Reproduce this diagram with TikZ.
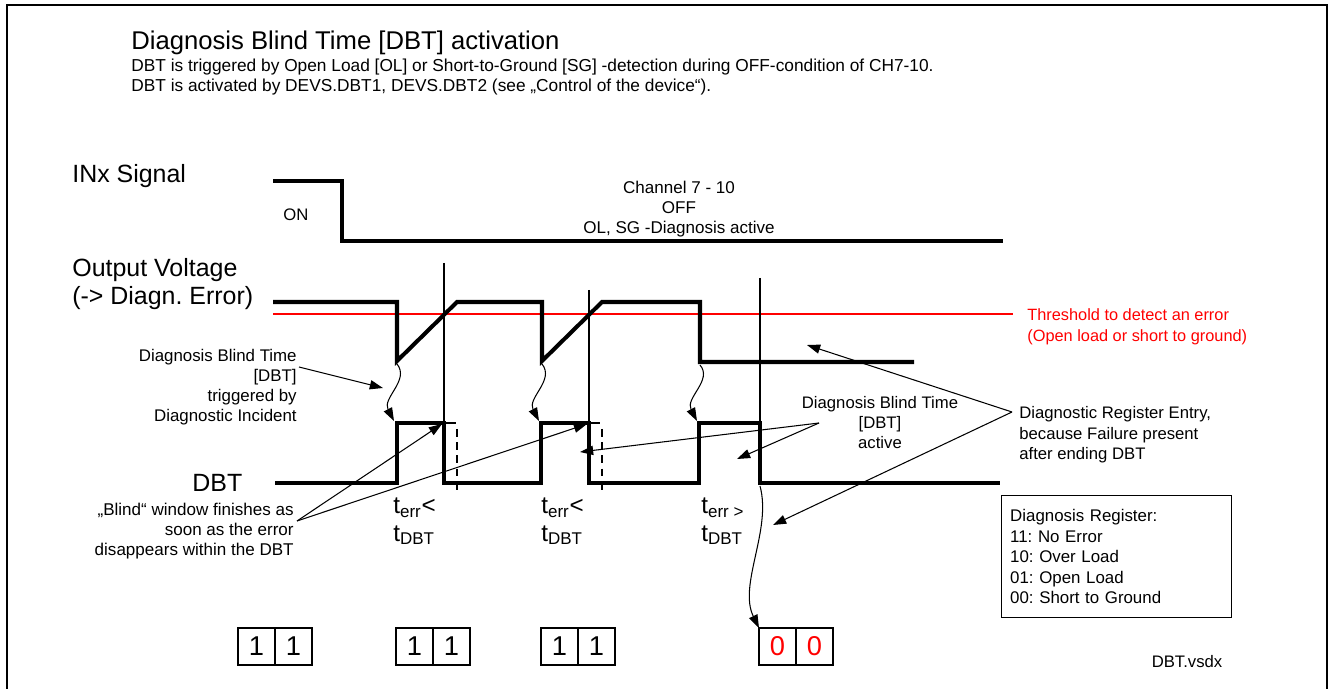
\documentclass[tikz,border=0pt]{standalone}
\usepackage{fontspec}
\setmainfont{Liberation Sans}
\usetikzlibrary{arrows.meta, positioning}

\begin{document}
\frenchspacing
\begin{tikzpicture}[x=0.02cm, y=-0.02cm, inner sep=0pt,
    wave/.style={line width=2.3pt},
    mark line/.style={line width=0.6pt},
    arr/.style={-{Triangle[length=7.5pt, width=5.2pt]}, line width=0.6pt},
    siglabel/.style={font=\fontsize{14.2}{16.4}\selectfont, align=left},
    note/.style={font=\fontsize{9.5}{11.5}\selectfont},
    tlabel/.style={font=\fontsize{13.8}{15}\selectfont, anchor=base west},
    regcell/.style={draw, line width=0.8pt, minimum size=0.74cm, outer sep=0pt,
      font=\fontsize{15.5}{17}\selectfont}]
   \useasboundingbox (0,0) rectangle (1330,689);
   % frame
   \draw[line width=1.2pt] (7,700) -- (7,5) -- (1327,5) -- (1327,700);

   % Heading
   \node[anchor=base west, font=\fontsize{14.6}{16}\selectfont] (title) at (131,50)
     {Diagnosis Blind Time [DBT] activation};
   \node[anchor=base west, font=\fontsize{9.85}{11}\selectfont] (sub1) at (131,72)
     {DBT is triggered by Open Load [OL] or Short-to-Ground [SG] -detection during OFF-condition of CH7-10.};
   \node[anchor=base west, font=\fontsize{9.85}{11}\selectfont] (sub2) at (131,92)
     {DBT is activated by DEVS.DBT1, DEVS.DBT2 (see „Control of the device“).};

   % Signal names
   \node[siglabel, anchor=base west] (inx) at (72,183) {INx Signal};
   \node[siglabel, anchor=west] (outv) at (72,284) {Output Voltage\\(-> Diagn. Error)};
   \node[siglabel, anchor=base west] (dbt) at (192,492) {DBT};

   % INx signal
   \draw[wave] (273,181) -- (342,181) -- (342,241) -- (1003,241);
   \node[note, anchor=base west] (on) at (283,221) {ON};
   \node[note, align=center, font=\fontsize{9.7}{11.6}\selectfont] (chan) at (679,209)
     {Channel 7 - 10\\OFF\\OL, SG -Diagnosis active};

   % Output voltage and threshold
   \draw[red, line width=0.7pt] (273,314) -- (1013,314);
   \draw[wave] (273,302) -- (397,302) -- (397,361) -- (457,302) -- (542,302)
     -- (542,361) -- (602,302) -- (700,302) -- (700,362) -- (914,362);
   \node[note, red, align=left, anchor=west, font=\fontsize{9.3}{12.2}\selectfont] (thres) at (1027,327)
     {Threshold to detect an error\\(Open load or short to ground)};

   % time markers
   \draw[mark line] (444,263) -- (444,423) -- (456,423);
   \draw[mark line] (589,290) -- (589,423) -- (600,423);
   \draw[mark line] (760,278) -- (760,423);
   \draw[mark line, dash pattern=on 4.5pt off 3pt] (457,429) -- (457,492);
   \draw[mark line, dash pattern=on 4.5pt off 3pt] (602,429) -- (602,492);

   % DBT signal
   \draw[wave] (275,483) -- (397,483) -- (397,423) -- (444,423) -- (444,483)
     -- (541,483) -- (541,423) -- (589,423) -- (589,483) -- (699,483)
     -- (699,423) -- (760,423) -- (760,483) -- (1000,483);

   % corners of the waveforms
   \coordinate (drop1) at (397,364);
   \coordinate (drop2) at (542,364);
   \coordinate (drop3) at (700,365);
   \coordinate (rise1) at (394,421);
   \coordinate (rise2) at (539,421);
   \coordinate (rise3) at (697,421);
   \coordinate (end1) at (442,424);
   \coordinate (end2) at (587,424);
   \coordinate (end3) at (760,486);

   % wavy trigger arrows
   \draw[arr] (drop1) .. controls (410,380) and (382,398) .. (rise1);
   \draw[arr] (drop2) .. controls (555,380) and (527,398) .. (rise2);
   \draw[arr] (drop3) .. controls (713,380) and (685,398) .. (rise3);

   % notes
   \node[note, align=right, anchor=east, font=\fontsize{9.6}{11.3}\selectfont] (trig) at (297,387)
     {Diagnosis Blind Time\\{}[DBT]\\triggered by\\Diagnostic Incident};
   \coordinate (trigtail) at (299,367);
   \coordinate (trigtip) at (383,388);
   \draw[arr] (trigtail) -- (trigtip);

   \node[note, align=right, anchor=east, font=\fontsize{9.7}{11.6}\selectfont] (blind) at (294,531)
     {„Blind“ window finishes as\\soon as the error\\disappears within the DBT};
   \coordinate (blindtail) at (297,521);
   \draw[arr] (blindtail) -- (end1);
   \draw[arr] (blindtail) -- (end2);

   \node[note, align=center, font=\fontsize{9.5}{11.4}\selectfont] (active) at (880,423)
     {Diagnosis Blind Time\\{}[DBT]\\active};
   \coordinate (activetail) at (819,423);
   \coordinate (activetip1) at (580,452);
   \coordinate (activetip2) at (737,459);
   \draw[arr] (activetail) -- (activetip1);
   \draw[arr] (activetail) -- (activetip2);

   \node[note, align=left, anchor=west, font=\fontsize{9.5}{11.6}\selectfont] (entry) at (1019,435)
     {Diagnostic Register Entry,\\because Failure present\\after ending DBT};
   \coordinate (entrytail) at (1012,412);
   \coordinate (entrytip1) at (807,345);
   \coordinate (entrytip2) at (773,525);
   \draw[arr] (entrytail) -- (entrytip1);
   \draw[arr] (entrytail) -- (entrytip2);

   % t labels
   \node[tlabel] (terr1) at (393,514) {t\textsubscript{err}<};
   \node[tlabel] (tdbt1) at (393,541) {t\textsubscript{DBT}};
   \node[tlabel] (terr2) at (541,514) {t\textsubscript{err}<};
   \node[tlabel] (tdbt2) at (541,541) {t\textsubscript{DBT}};
   \node[tlabel] (terr3) at (701,514) {t\textsubscript{err >}};
   \node[tlabel] (tdbt3) at (701,541) {t\textsubscript{DBT}};

   % register legend
   \node[draw, line width=0.8pt, anchor=north west, minimum width=4.6cm, minimum height=2.44cm,
     text width=4.26cm, align=left, font=\fontsize{9.6}{11.7}\selectfont] (legend) at (1001,495)
     {Diagnosis Register:\\11: No Error\\10: Over Load\\01: Open Load\\00: Short to Ground};
   \node[note, anchor=base] (file) at (1187,667) {DBT.vsdx};

   % register contents
   \node[regcell] (reg1a) at (256.5,646.5) {1};
   \node[regcell, right=0pt of reg1a] (reg1b) {1};
   \node[regcell] (reg2a) at (414.5,646.5) {1};
   \node[regcell, right=0pt of reg2a] (reg2b) {1};
   \node[regcell] (reg3a) at (559.5,646.5) {1};
   \node[regcell, right=0pt of reg3a] (reg3b) {1};
   \node[regcell, text=red] (reg4a) at (777.5,646.5) {0};
   \node[regcell, text=red, right=0pt of reg4a] (reg4b) {0};

   \draw[arr] (end3) .. controls (772,530) and (738,585) .. (reg4a.north west);
\end{tikzpicture}
\end{document}
